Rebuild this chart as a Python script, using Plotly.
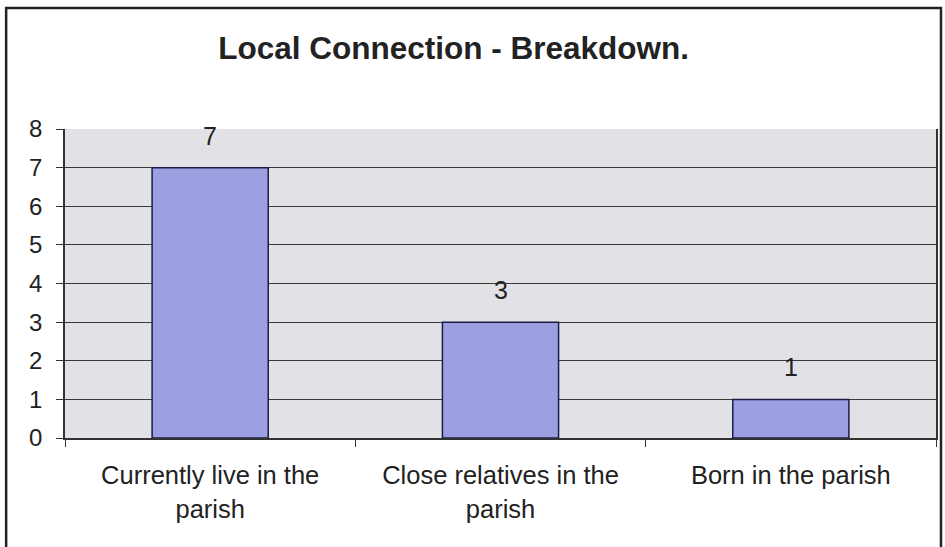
import plotly.graph_objects as go

categories = ["Currently live in the<br>parish", "Close relatives in the<br>parish", "Born in the parish"]
values = [7, 3, 1]
y_ticks = [0, 1, 2, 3, 4, 5, 6, 7, 8]

W, H = 945, 547
L, R, T, B = 65, 7, 129, 109
pw, ph = W - L - R, H - T - B
FONT = "Liberation Sans, Arial, sans-serif"

def px(x):
    return (x - L) / pw

def py(y):
    return (H - B - y) / ph

fig = go.Figure()
fig.add_trace(go.Bar(
    x=categories, y=values,
    width=0.40,
    marker=dict(color="#9ca0e0", line=dict(color="#1c1c48", width=1.5)),
))

for c, v in zip(categories, values):
    fig.add_annotation(x=c, y=v, text=str(v), showarrow=False,
                       yanchor="middle", yshift=32,
                       font=dict(family=FONT, size=25, color="#222"))

fig.update_layout(
    width=W, height=H,
    margin=dict(l=L, r=R, t=T, b=B),
    paper_bgcolor="white", plot_bgcolor="#e2e2e6",
    title=dict(text="<b>Local Connection - Breakdown.</b>", x=px(484), xanchor="center",
               y=1 - 48 / H, yanchor="middle",
               font=dict(family=FONT, size=31.5, color="#222")),
    showlegend=False,
    xaxis=dict(showgrid=False, ticks="outside", ticklen=7, tickcolor="#333", tickwidth=1.2,
               tickson="boundaries", showline=True, linecolor="#333", linewidth=1.5,
               ticklabelstandoff=14,
               tickfont=dict(family=FONT, size=25.5, color="#222")),
    yaxis=dict(range=[0, 8], tickvals=y_ticks, showgrid=True, gridcolor="#3a3a3a", gridwidth=1.3,
               ticks="outside", ticklen=7, tickcolor="#333", showline=True,
               linecolor="#333", linewidth=1.5, mirror=True, zeroline=False,
               ticklabelstandoff=9,
               tickfont=dict(family=FONT, size=24, color="#222")),
)

fig.add_shape(type="rect", xref="paper", yref="paper",
              x0=px(6), x1=px(943), y0=py(570), y1=py(8),
              line=dict(color="#222", width=2.5), layer="above")

fig.write_html("out.html", config={"displayModeBar": False},
               post_script="document.body.style.margin='0';")
